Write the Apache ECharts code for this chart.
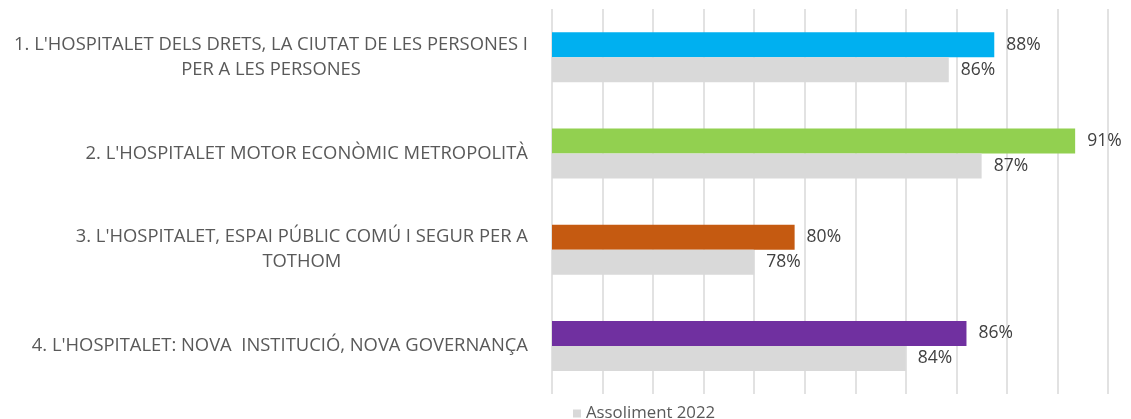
<!DOCTYPE html>
<html>
<head>
<meta charset="utf-8">
<script src="https://cdn.jsdelivr.net/npm/echarts@6/dist/echarts.min.js"></script>
<style>
html,body{margin:0;padding:0;background:#fff;}
#main{width:1131px;height:419px;}
</style>
</head>
<body>
<div id="main"></div>
<script>
// eixos
var categories = [
	"1. L'HOSPITALET DELS DRETS, LA CIUTAT DE LES PERSONES I\nPER A LES PERSONES",
	"2. L'HOSPITALET MOTOR ECONÒMIC METROPOLITÀ",
	"3. L'HOSPITALET, ESPAI PÚBLIC COMÚ I SEGUR PER A\nTOTHOM",
	"4. L'HOSPITALET: NOVA  INSTITUCIÓ, NOVA GOVERNANÇA"
];
var barColors = ['#00B0F0', '#92D050', '#C55A11', '#7030A0'];
// valors (%)
var actual = [87.5, 90.7, 79.6, 86.4];
var assoliment2022 = [85.7, 87.0, 78.0, 84.0];
var axisMin = 70, axisMax = 92, axisStep = 2;

var chart = echarts.init(document.getElementById('main'));

var colorData = [];
for (var i = 0; i < actual.length; i++) {
	colorData.push({value: actual[i], itemStyle: {color: barColors[i]}});
}

function pct(p) {
	return Math.round(p.value) + '%';
}

var option = {
	animation: false,
	textStyle: {fontFamily: 'Open Sans'},
	grid: {left: 552, right: 23, top: 9, bottom: 25, containLabel: false},
	legend: {
		data: ['Assoliment 2022'],
		left: 568, top: 400,
		icon: 'rect', itemWidth: 8, itemHeight: 8,
		textStyle: {fontSize: 16.8, color: '#595959', fontFamily: 'Open Sans'}
	},
	xAxis: {
		type: 'value', min: axisMin, max: axisMax, interval: axisStep,
		axisLabel: {show: false},
		axisLine: {show: false},
		axisTick: {show: false},
		splitLine: {show: true, lineStyle: {color: '#D9D9D9', width: 1.5}}
	},
	yAxis: {
		type: 'category', data: categories, inverse: true,
		axisLine: {show: false},
		axisTick: {show: false},
		axisLabel: {
			margin: 24,
			color: '#595959',
			fontSize: 18.4,
			formatter: function (v) {
				return v.split('\n').map(function (s) { return '{c|' + s + '}'; }).join('\n');
			},
			rich: {c: {align: 'center', fontSize: 18.4, lineHeight: 25, color: '#595959', fontFamily: 'Open Sans'}}
		}
	},
	series: [
		{
			name: 'Assoliment 2023',
			type: 'bar',
			data: colorData,
			barWidth: 25,
			barGap: '0%',
			label: {show: true, position: 'right', distance: 12, formatter: pct, fontSize: 17.5, color: '#404040'}
		},
		{
			name: 'Assoliment 2022',
			type: 'bar',
			data: assoliment2022,
			barWidth: 25,
			itemStyle: {color: '#D9D9D9'},
			label: {show: true, position: 'right', distance: 12, formatter: pct, fontSize: 17.5, color: '#404040'}
		}
	]
};
chart.setOption(option);
</script>
</body>
</html>
